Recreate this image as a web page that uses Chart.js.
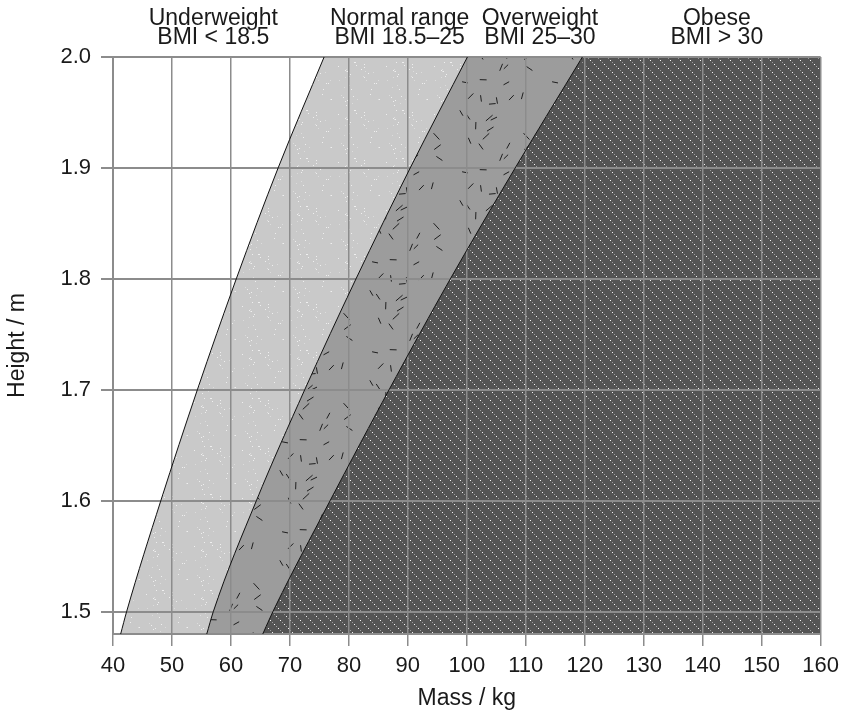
<!DOCTYPE html>
<html>
<head>
<meta charset="utf-8">
<script src="https://cdn.jsdelivr.net/npm/chart.js@4/dist/chart.umd.min.js"></script>
<style>
  html, body { margin: 0; padding: 0; background: #fff; }
  #wrap { width: 846px; height: 718px; }
</style>
</head>
<body>
<div id="wrap"><canvas id="bmiChart" width="846" height="718"></canvas></div>
<script>
// heights, masses where each boundary crosses them
const heights = [1.48, 1.5, 1.6, 1.7, 1.8, 1.9, 2.0];
const bmi185Mass = [41.3, 42.3, 48.1, 54.3, 60.9, 68.0, 75.8];
const bmi25Mass = [55.9, 57.0, 64.3, 72.5, 81.2, 90.4, 100.1];
const bmi30Mass = [65.4, 67.1, 76.8, 86.8, 97.2, 108.2, 119.6];

const bandNames = ["Underweight", "Normal range", "Overweight", "Obese"];
const bandRanges = ["BMI < 18.5", "BMI 18.5\u201325", "BMI 25\u201330", "BMI > 30"];
const bandLabelMass = [57, 88.6, 112.4, 142.4];

const FONT = '"Liberation Sans", Arial, sans-serif';
const GRID = "#8c8c8c";

// simple seeded generator so the textures are the same on every run
function lcg(seed) {
    let s = seed;
    return () => {
        s = (s * 1103515245 + 12345) % 2147483648;
        return s / 2147483648;
    };
}

function tile(w, h, draw) {
    const c = document.createElement("canvas");
    c.width = w;
    c.height = h;
    draw(c.getContext("2d"));
    return c;
}

function makePatterns(ctx) {
    // normal range: light grey with faint dots
    const normal = tile(48, 48, g => {
        g.fillStyle = "#c9c9c9";
        g.fillRect(0, 0, 48, 48);
        const r = lcg(7);
        for (let i = 0; i < 40; i++) {
            g.fillStyle = r() > 0.5 ? "#efefef" : "#dcdcdc";
            g.fillRect(Math.floor(r() * 48), Math.floor(r() * 48), 1, 1);
        }
    });
    // overweight: mid grey with short black dashes
    const over = tile(90, 90, g => {
        g.fillStyle = "#9c9c9c";
        g.fillRect(0, 0, 90, 90);
        const r = lcg(31);
        g.strokeStyle = "#1e1e1e";
        g.lineWidth = 1;
        for (let i = 0; i < 24; i++) {
            const cx = 5 + r() * 80, cy = 5 + r() * 80;
            const a = r() * Math.PI;
            const len = 6 + r() * 3;
            g.beginPath();
            g.moveTo(cx - Math.cos(a) * len / 2, cy - Math.sin(a) * len / 2);
            g.lineTo(cx + Math.cos(a) * len / 2, cy + Math.sin(a) * len / 2);
            g.stroke();
        }
    });
    // obese: dark grey with dotted diagonal lines
    const obese = tile(20, 20, g => {
        g.fillStyle = "#545454";
        g.fillRect(0, 0, 20, 20);
        for (let k = 0; k < 20; k += 2) {
            g.fillStyle = (k / 2) % 2 === 0 ? "#f4f4f4" : "#9a9a9a";
            g.fillRect(k, k, 1, 1);
            g.fillRect((k + 10) % 20, k, 1, 1);
        }
    });
    return {
        normal: ctx.createPattern(normal, "repeat"),
        over: ctx.createPattern(over, "repeat"),
        obese: ctx.createPattern(obese, "repeat"),
    };
}

function toPoints(masses) {
    return masses.map((m, i) => ({ x: m, y: heights[i] }));
}

// fill everything right of each boundary line, lightest first
const bandFill = {
    id: "bandFill",
    beforeDraw(chart) {
        const { ctx, chartArea: a, scales: { y } } = chart;
        if (!chart.$patterns) chart.$patterns = makePatterns(ctx);
        const p = chart.$patterns;
        const fills = [p.normal, p.over, p.obese];
        ctx.save();
        ctx.beginPath();
        ctx.rect(a.left, a.top, a.width, a.height);
        ctx.clip();
        fills.forEach((fill, i) => {
            const lineEl = chart.getDatasetMeta(i).dataset;
            lineEl.updateControlPoints(a, "x");
            ctx.beginPath();
            lineEl.path(ctx);
            ctx.lineTo(a.right + 5, y.getPixelForValue(heights[heights.length - 1]));
            ctx.lineTo(a.right + 5, y.getPixelForValue(heights[0]));
            ctx.closePath();
            ctx.fillStyle = fill;
            ctx.fill();
        });
        ctx.restore();
    }
};

// category labels above the plot
const bandLabels = {
    id: "bandLabels",
    afterDraw(chart) {
        const { ctx, scales: { x } } = chart;
        ctx.save();
        ctx.font = "23px " + FONT;
        ctx.fillStyle = "#1a1a1a";
        ctx.textAlign = "center";
        ctx.textBaseline = "alphabetic";
        bandNames.forEach((name, i) => {
            const px = x.getPixelForValue(bandLabelMass[i]);
            ctx.fillText(name, px, 25);
            ctx.fillText(bandRanges[i], px, 44);
        });
        ctx.restore();
    }
};

const line = (masses) => ({
    data: toPoints(masses),
    showLine: true,
    borderColor: "#111",
    borderWidth: 1,
    pointRadius: 0,
    cubicInterpolationMode: "monotone",
});

new Chart(document.getElementById("bmiChart"), {
    type: "scatter",
    data: {
        datasets: [line(bmi185Mass), line(bmi25Mass), line(bmi30Mass)]
    },
    options: {
        responsive: false,
        animation: false,
        layout: { padding: { top: 57, right: 24, left: 0, bottom: 0 } },
        plugins: { legend: { display: false }, tooltip: { enabled: false } },
        scales: {
            x: {
                type: "linear",
                min: 40,
                max: 160,
                afterFit: s => { s.height = 84; },
                ticks: {
                    stepSize: 10,
                    padding: 7,
                    color: "#1a1a1a",
                    font: { family: FONT, size: 22 },
                },
                grid: { color: GRID, lineWidth: 1.5, tickLength: 12, tickColor: GRID },
                border: { color: GRID, width: 2 },
                title: {
                    display: true,
                    text: "Mass / kg",
                    color: "#1a1a1a",
                    font: { family: FONT, size: 23 },
                    padding: { top: 4, bottom: 6 },
                },
            },
            y: {
                type: "linear",
                min: 1.48,
                max: 2.0,
                afterFit: s => { s.width = 113; },
                ticks: {
                    stepSize: 0.1,
                    includeBounds: false,
                    padding: 10,
                    color: "#1a1a1a",
                    font: { family: FONT, size: 22 },
                    callback: v => v.toFixed(1),
                },
                grid: { color: GRID, lineWidth: 2, tickLength: 12, tickColor: GRID },
                border: { color: GRID, width: 2 },
                title: {
                    display: true,
                    text: "Height / m",
                    color: "#1a1a1a",
                    font: { family: FONT, size: 23 },
                    padding: { top: 4, bottom: 4 },
                },
            },
        },
    },
    plugins: [bandFill, bandLabels],
});
</script>
</body>
</html>
